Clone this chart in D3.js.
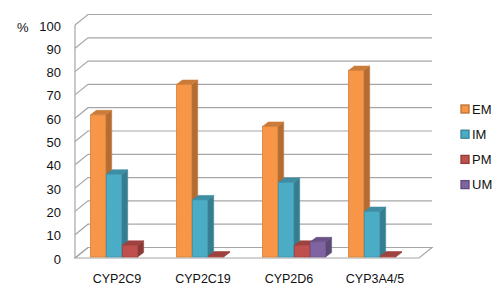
<!DOCTYPE html>
<html>
<head>
<meta charset="utf-8">
<script src="https://cdn.jsdelivr.net/npm/d3@7"></script>
<style>
  html, body { margin: 0; padding: 0; background: #fff; }
  text { font-family: "Liberation Sans", Arial, sans-serif; fill: #111; }
</style>
</head>
<body>
<div id="chart"></div>
<script>
const categories = ["CYP2C9", "CYP2C19", "CYP2D6", "CYP3A4/5"];
const seriesNames = ["EM", "IM", "PM", "UM"];
const seriesColors = ["#F79646", "#4BACC6", "#C0504D", "#8064A2"];
const emValues = [61, 74, 56, 80];
const imValues = [35.5, 24.5, 32, 19.5];
const pmValues = [5, 0.4, 5, 0.4];
const umValues = [0, 0, 6.5, 0];
const yTicks = [0, 10, 20, 30, 40, 50, 60, 70, 80, 90, 100];

const seriesValues = [emValues, imValues, pmValues, umValues];

const width = 500, height = 289;
const plotLeft = 75, plotRight = 419, plotBottom = 258, plotTop = 25;
const depthX = 13, depthY = -10.5;   // wall depth
const barDX = 6, barDY = -4.5;       // bar depth

const svg = d3.select("#chart").append("svg")
  .attr("width", width)
  .attr("height", height);

const y = d3.scaleLinear().domain([0, 100]).range([plotBottom, plotTop]);
const x0 = d3.scaleBand().domain(categories).range([plotLeft, plotRight])
  .paddingInner(0.25).paddingOuter(0.125);
const x1 = d3.scaleBand().domain(seriesNames).range([0, x0.bandwidth()]).padding(0.04);

const gridColor = "#A6A6A6";

// floor
svg.append("path")
  .attr("d", `M${plotLeft},${plotBottom}L${plotRight},${plotBottom}L${plotRight + depthX},${plotBottom + depthY}L${plotLeft + depthX},${plotBottom + depthY}Z`)
  .attr("fill", "#fff")
  .attr("stroke", gridColor)
  .attr("stroke-width", 1.2);

// gridlines: left wall diagonal + back wall horizontal
const grid = svg.append("g").attr("fill", "none").attr("stroke", gridColor).attr("stroke-width", 1.2);
yTicks.forEach(t => {
  grid.append("path")
    .attr("d", `M${plotLeft},${y(t)}L${plotLeft + depthX},${y(t) + depthY}L${plotRight + depthX},${y(t) + depthY}`);
});
grid.append("line")
  .attr("x1", plotLeft).attr("x2", plotLeft)
  .attr("y1", y(100)).attr("y2", y(0));

// tick labels
svg.append("g").selectAll("text")
  .data(yTicks)
  .join("text")
  .attr("x", 61)
  .attr("y", d => y(d) + 1)
  .attr("dy", "0.35em")
  .attr("text-anchor", "end")
  .attr("font-size", "13px")
  .text(d => d);

svg.append("text")
  .attr("x", 17).attr("y", y(100) + 7)
  .attr("font-size", "13px")
  .text("%");

// bars, drawn left to right so each front face covers the previous side
const yb = d3.scaleLinear().domain([0, 100]).range([plotBottom - 1, plotTop - 1]);
const bars = svg.append("g");
categories.forEach((c, ci) => {
  seriesNames.forEach((s, si) => {
    const v = seriesValues[si][ci];
    if (!v) return;
    const col = d3.color(seriesColors[si]);
    const bx = x0(c) + 4 + x1(s);
    const bw = x1.bandwidth();
    const by = yb(v), b0 = yb(0);
    const edge = col.darker(0.6).formatHex();
    // side
    bars.append("path")
      .attr("d", `M${bx + bw},${b0}L${bx + bw + barDX},${b0 + barDY}L${bx + bw + barDX},${by + barDY}L${bx + bw},${by}Z`)
      .attr("fill", col.darker(0.9).formatHex())
      .attr("stroke", edge).attr("stroke-width", 0.6);
    // top
    bars.append("path")
      .attr("d", `M${bx},${by}L${bx + barDX},${by + barDY}L${bx + bw + barDX},${by + barDY}L${bx + bw},${by}Z`)
      .attr("fill", col.darker(0.55).formatHex())
      .attr("stroke", edge).attr("stroke-width", 0.6);
    // front
    bars.append("rect")
      .attr("x", bx).attr("y", by)
      .attr("width", bw).attr("height", b0 - by)
      .attr("fill", col.formatHex())
      .attr("stroke", col.darker(0.4).formatHex()).attr("stroke-width", 0.8);
  });
});

// category labels
svg.append("g").selectAll("text")
  .data(categories)
  .join("text")
  .attr("x", d => x0(d) + x0.bandwidth() / 2 - 1)
  .attr("y", 279)
  .attr("dy", "0.35em")
  .attr("text-anchor", "middle")
  .attr("font-size", "12.5px")
  .text(d => d);

// legend
const legend = svg.append("g").selectAll("g")
  .data(seriesNames)
  .join("g")
  .attr("transform", (d, i) => `translate(461,${109 + i * 25.2})`);
legend.append("rect")
  .attr("x", 0).attr("y", -4)
  .attr("width", 8).attr("height", 8)
  .attr("fill", (d, i) => seriesColors[i])
  .attr("stroke", (d, i) => d3.color(seriesColors[i]).darker(0.8).formatHex())
  .attr("stroke-width", 1.3);
legend.append("text")
  .attr("x", 11)
  .attr("y", 0)
  .attr("dy", "0.35em")
  .attr("font-size", "13px")
  .text(d => d);
</script>
</body>
</html>
